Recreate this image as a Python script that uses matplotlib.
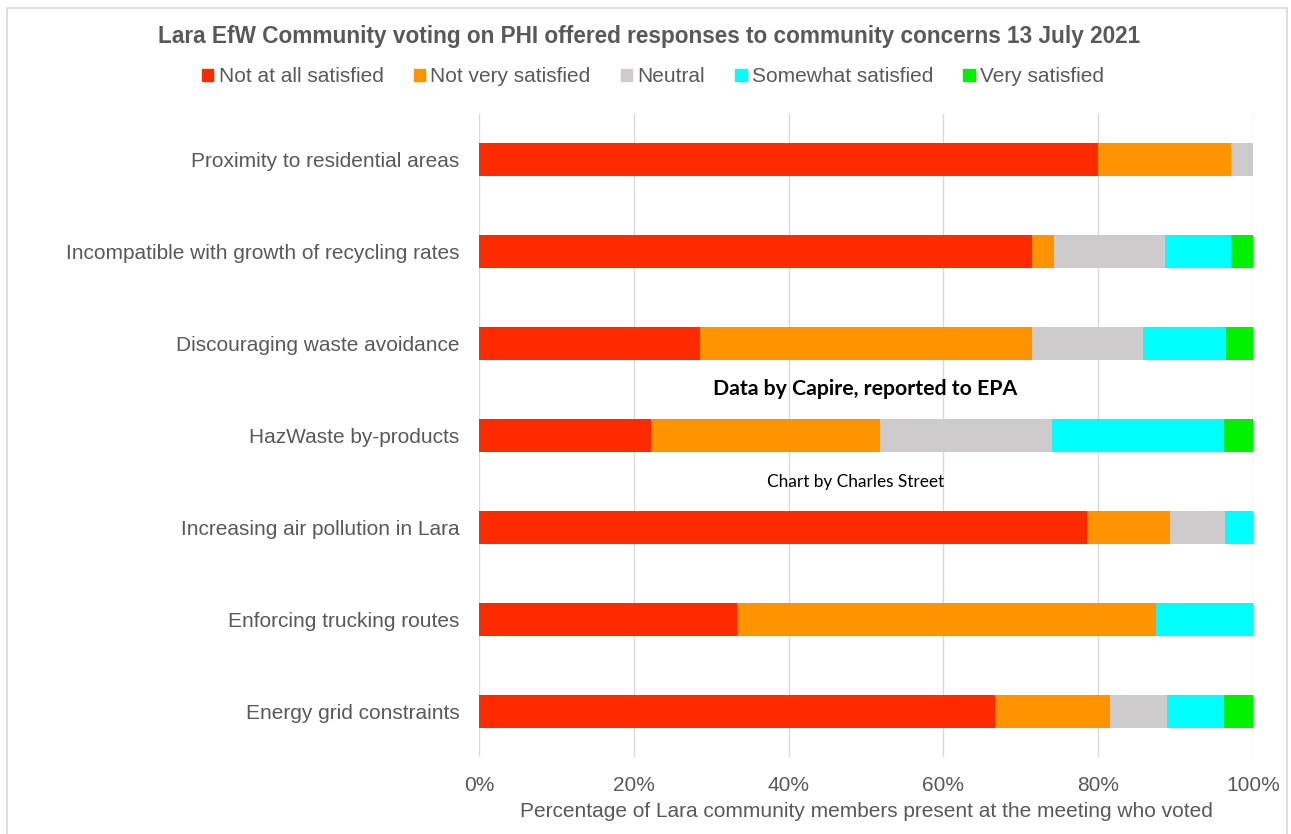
import matplotlib.pyplot as plt
import matplotlib.patches as mpatches
import numpy as np

# Concerns, top to bottom as shown
concerns = [
    "Proximity to residential areas",
    "Incompatible with growth of recycling rates",
    "Discouraging waste avoidance",
    "HazWaste by-products",
    "Increasing air pollution in Lara",
    "Enforcing trucking routes",
    "Energy grid constraints",
]

# Percentages (each row sums to 100)
not_at_all = [80.0, 71.4, 28.6, 22.2, 78.6, 33.3, 66.7]
not_very = [17.1, 2.9, 42.9, 29.6, 10.7, 54.2, 14.8]
neutral = [2.9, 14.3, 14.3, 22.2, 7.1, 0.0, 7.4]
somewhat = [0.0, 8.6, 10.7, 22.2, 3.6, 12.5, 7.4]
very = [0.0, 2.8, 3.5, 3.8, 0.0, 0.0, 3.7]

series_names = ["Not at all satisfied", "Not very satisfied", "Neutral",
                "Somewhat satisfied", "Very satisfied"]
colors = ["#FF2A00", "#FF9300", "#CDCBCB", "#00FFFF", "#00F000"]

text_col = "#595959"
plt.rcParams["font.family"] = ["Liberation Sans", "DejaVu Sans"]

fig = plt.figure(figsize=(12.91, 8.34), dpi=100)
ax = fig.add_axes([0.371, 0.0923, 0.5996, 0.771])

y = np.arange(len(concerns))
left = np.zeros(len(concerns))
for vals, name, c in zip([not_at_all, not_very, neutral, somewhat, very], series_names, colors):
    vals = np.array(vals)
    ax.barh(y, vals, left=left, height=0.36, color=c, label=name, zorder=2)
    left += vals

ax.set_xlim(0, 100)
ax.set_ylim(len(concerns) - 0.5, -0.5)
ax.set_yticks(y)
ax.set_yticklabels(concerns, fontsize=15, color=text_col)
ax.set_xticks(np.arange(0, 101, 20))
ax.set_xticklabels([f"{v}%" for v in range(0, 101, 20)], fontsize=15, color=text_col)
ax.tick_params(axis="both", length=0)
ax.tick_params(axis="y", pad=14)
ax.tick_params(axis="x", pad=14)
ax.grid(axis="x", color="#D9D9D9", linewidth=1, zorder=0)
for s in ax.spines.values():
    s.set_visible(False)
ax.set_xlabel("Percentage of Lara community members present at the meeting who voted",
              fontsize=15, color=text_col, labelpad=5)

fig.text(0.503, 1 - 37 / 834, "Lara EfW Community voting on PHI offered responses to community concerns 13 July 2021",
         ha="center", va="center", fontsize=16.3, fontweight="bold", color=text_col)

handles = [mpatches.Patch(color=c) for c in colors]
fig.legend(handles, series_names, loc="center", bbox_to_anchor=(653 / 1291, 1 - 77 / 834), ncol=5,
           frameon=False, fontsize=15, handlelength=0.55, handleheight=0.55,
           handletextpad=0.25, columnspacing=1.45, labelcolor=text_col)

fig.text(865 / 1291, 1 - 389 / 834, "Data by Capire, reported to EPA", ha="center", va="center",
         fontsize=15.3, fontweight="bold", family=["Lato", "DejaVu Sans"], color="black")
fig.text(856 / 1291, 1 - 482 / 834, "Chart by Charles Street", ha="center", va="center",
         fontsize=12.4, family=["Lato", "DejaVu Sans"], color="black")

# outer chart frame
fig.patches.append(mpatches.Rectangle((7 / 1291, -0.01), 1280 / 1291, 1 - 8 / 834 + 0.01,
                                      transform=fig.transFigure, fill=False,
                                      edgecolor="#D9D9D9", linewidth=1.2))

fig.savefig("out.png", dpi=100)
